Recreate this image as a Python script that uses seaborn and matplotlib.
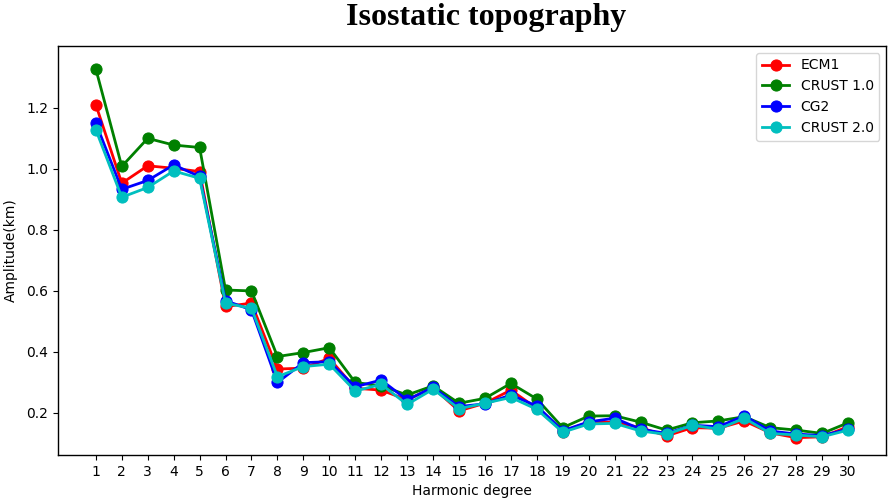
import matplotlib
matplotlib.use("Agg")
import matplotlib.pyplot as plt
import seaborn as sns
import pandas as pd

degrees = list(range(1, 31))
ecm1 = [1.21, 0.953, 1.01, 1.002, 0.991, 0.549, 0.56, 0.344, 0.347, 0.379,
        0.281, 0.275, 0.243, 0.283, 0.207, 0.232, 0.275, 0.215, 0.139, 0.17,
        0.17, 0.152, 0.125, 0.152, 0.15, 0.174, 0.135, 0.119, 0.122, 0.155]
crust1 = [1.327, 1.008, 1.10, 1.078, 1.07, 0.603, 0.60, 0.385, 0.398, 0.414,
          0.30, 0.289, 0.259, 0.289, 0.232, 0.248, 0.297, 0.246, 0.152, 0.19,
          0.191, 0.17, 0.144, 0.168, 0.174, 0.188, 0.152, 0.144, 0.133, 0.168]
cg2 = [1.15, 0.933, 0.962, 1.013, 0.975, 0.568, 0.538, 0.30, 0.365, 0.368,
       0.286, 0.308, 0.243, 0.284, 0.221, 0.23, 0.259, 0.223, 0.142, 0.171,
       0.183, 0.147, 0.133, 0.16, 0.155, 0.191, 0.141, 0.131, 0.126, 0.147]
crust2 = [1.128, 0.907, 0.939, 0.993, 0.969, 0.56, 0.543, 0.319, 0.352, 0.36,
          0.272, 0.294, 0.228, 0.278, 0.214, 0.232, 0.251, 0.212, 0.137, 0.164,
          0.166, 0.141, 0.13, 0.16, 0.147, 0.183, 0.133, 0.128, 0.122, 0.144]

series = {"ECM1": ecm1, "CRUST 1.0": crust1, "CG2": cg2, "CRUST 2.0": crust2}
colors = {"ECM1": "red", "CRUST 1.0": "green", "CG2": "blue", "CRUST 2.0": "c"}

rows = []
for name, vals in series.items():
    for d, v in zip(degrees, vals):
        rows.append({"degree": d, "amp": v, "model": name})
df = pd.DataFrame(rows)

fig = plt.figure(figsize=(8.88, 5.04), dpi=100)
ax = fig.add_axes([0.065, 0.097, 0.933, 0.812])

for name in series:
    sub = df[df["model"] == name]
    sns.lineplot(data=sub, x="degree", y="amp", ax=ax, color=colors[name],
                 marker="o", markersize=8, markeredgecolor=colors[name],
                 linewidth=2, label=name)

ax.set_xlim(-0.47, 31.47)
ax.set_ylim(0.062, 1.403)
ax.set_xticks(degrees)
ax.set_xticklabels([str(d) for d in degrees])
ax.set_yticks([0.2, 0.4, 0.6, 0.8, 1.0, 1.2])
ax.set_xlabel("Harmonic degree", fontsize=10, labelpad=4)
ax.set_ylabel("Amplitude(km)", fontsize=10, labelpad=6)
ax.tick_params(labelsize=10)
for s in ax.spines.values():
    s.set_color("black")
    s.set_linewidth(1)

ax.legend(loc="upper right", fontsize=10, frameon=True)

fig.text(0.547, 0.950, "Isostatic topography", ha="center", va="baseline",
         fontsize=23, fontweight="bold", family="Liberation Serif")

fig.savefig("out.png", dpi=100)
